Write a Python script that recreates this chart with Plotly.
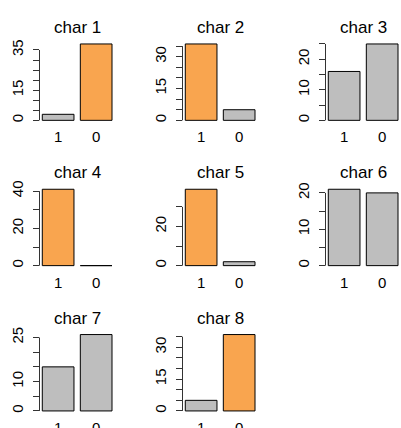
import plotly.graph_objects as go

titles = ["char 1", "char 2", "char 3", "char 4", "char 5", "char 6", "char 7", "char 8"]
categories = ["1", "0"]
values = [
    [3, 38],
    [36, 5],
    [16, 25],
    [41, 0],
    [39, 2],
    [21, 20],
    [15, 26],
    [5, 36],
]
colors = [
    ["gray", "orange"],
    ["orange", "gray"],
    ["gray", "gray"],
    ["orange", "gray"],
    ["orange", "gray"],
    ["gray", "gray"],
    ["gray", "gray"],
    ["gray", "orange"],
]
ytick_vals = [
    [0, 5, 10, 15, 20, 25, 30, 35],
    [0, 5, 10, 15, 20, 25, 30, 35],
    [0, 5, 10, 15, 20, 25],
    [0, 10, 20, 30, 40],
    [0, 10, 20, 30],
    [0, 5, 10, 15, 20],
    [0, 5, 10, 15, 20, 25],
    [0, 5, 10, 15, 20, 25, 30, 35],
]
ytick_text = [
    ["0", "", "", "15", "", "", "", "35"],
    ["0", "", "", "15", "", "", "30", ""],
    ["0", "", "10", "", "20", ""],
    ["0", "", "20", "", "40"],
    ["0", "", "20", ""],
    ["0", "", "10", "", "20"],
    ["0", "", "10", "", "", "25"],
    ["0", "", "", "15", "", "", "30", ""],
]

palette = {"gray": "#BEBEBE", "orange": "#F9A54F"}
bar_pos = [0.7, 1.9]  # barplot centres with space = 0.2, width = 1

W, H = 401, 428
col_step, row_step = 143.0, 145.3
plot_left, plot_w = 39.5, 75.3
plot_top, plot_h = 40.9, 82.5
FONT = "Liberation Sans, Arial, sans-serif"

fig = go.Figure()
layout = dict(
    width=W, height=H, margin=dict(l=0, r=0, t=0, b=0, autoexpand=False),
    plot_bgcolor="white", paper_bgcolor="white", showlegend=False,
    font=dict(family=FONT, color="black"),
)
annotations = []
shapes = []
for i, vals in enumerate(values):
    r, c = divmod(i, 3)
    k = "" if i == 0 else str(i + 1)
    x0 = (plot_left + col_step * c) / W
    x1 = min((plot_left + plot_w + col_step * c) / W, 1.0)
    top = plot_top + row_step * r
    bot = top + plot_h
    y0 = 1 - bot / H
    y1 = 1 - top / H
    fig.add_trace(go.Bar(
        x=bar_pos, y=vals, width=1,
        marker=dict(color=[palette[cc] for cc in colors[i]],
                    line=dict(color="black", width=1)),
        xaxis="x" + k, yaxis="y" + k, hoverinfo="skip",
    ))
    m = max(vals)
    layout["xaxis" + k] = dict(
        domain=[x0, x1], anchor="y" + k, range=[0.112, 2.488],
        tickvals=bar_pos, ticktext=categories, ticks="", showline=False,
        showgrid=False, zeroline=False, tickfont=dict(size=15),
        ticklabelstandoff=3, automargin=False,
    )
    layout["yaxis" + k] = dict(
        domain=[y0, y1], anchor="x" + k, range=[-0.04 * m, 1.04 * m],
        tickvals=ytick_vals[i], ticktext=ytick_text[i], ticks="outside",
        ticklen=6, tickcolor="#333", tickwidth=1, showline=False,
        showgrid=False, zeroline=False, tickangle=-90,
        tickfont=dict(size=15), automargin=False, ticklabelstandoff=4,
    )
    shapes.append(dict(
        type="line", xref="x" + k + " domain", yref="y" + k,
        x0=0, x1=0, y0=ytick_vals[i][0], y1=ytick_vals[i][-1],
        line=dict(color="#333", width=1),
    ))
    annotations.append(dict(
        text=titles[i], xref="x" + k + " domain", yref="y" + k + " domain",
        x=0.5, y=1, xanchor="center", yanchor="bottom", yshift=2,
        showarrow=False, font=dict(size=17, family=FONT),
    ))
layout["annotations"] = annotations
layout["shapes"] = shapes
fig.update_layout(**layout)
fig.write_html(
    "out.html",
    config={"displayModeBar": False},
    post_script="document.body.style.margin='0';document.body.style.overflow='hidden';",
)
